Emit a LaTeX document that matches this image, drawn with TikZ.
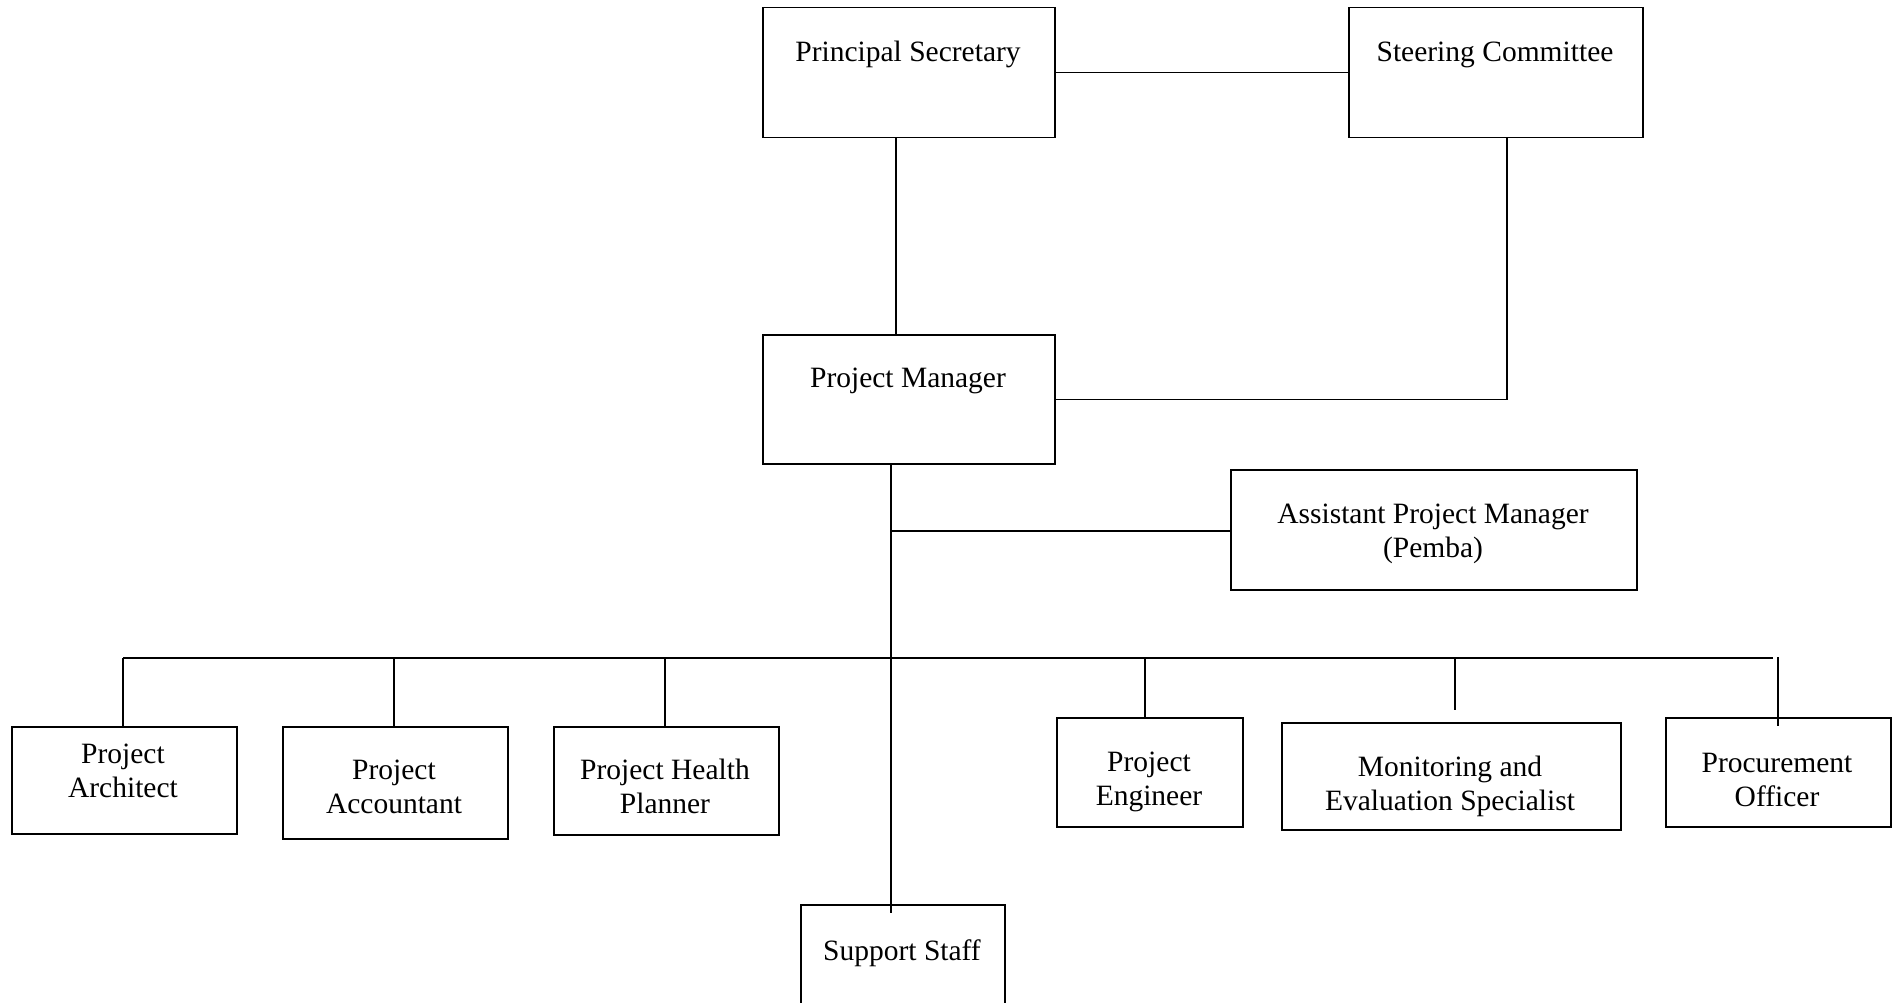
\documentclass[tikz,border=0pt]{standalone}
\usepackage{fontspec}
\setmainfont{Liberation Serif}
\begin{document}
\begin{tikzpicture}[x=1pt,y=-1pt,
  box/.style={draw, line width=1.5pt, inner sep=0pt, anchor=north west},
  lbl/.style={font=\fontsize{29.5}{34}\selectfont, align=center, inner sep=0pt, anchor=center},
  conn/.style={line width=1.3pt}]
\useasboundingbox (0,0) rectangle (1896,1003);
% boxes
\node[box, minimum width=292pt, minimum height=130pt] (ps) at (762,7) {};
\node[box, minimum width=294pt, minimum height=130pt] (sc) at (1348,7) {};
\node[box, minimum width=292pt, minimum height=129pt] (pm) at (762,334) {};
\node[box, minimum width=406pt, minimum height=120pt] (apm) at (1230,469) {};
\node[box, minimum width=225pt, minimum height=107pt] (arch) at (11,726) {};
\node[box, minimum width=225pt, minimum height=112pt] (acc) at (282,726) {};
\node[box, minimum width=225pt, minimum height=108pt] (hp) at (553,726) {};
\node[box, minimum width=186pt, minimum height=109pt] (eng) at (1056,717) {};
\node[box, minimum width=339pt, minimum height=107pt] (me) at (1281,722) {};
\node[box, minimum width=225pt, minimum height=109pt] (proc) at (1665,717) {};
\node[box, minimum width=204pt, minimum height=110pt] (ss) at (800,904) {};
% labels
\node[lbl] (psl) at (908,54) {Principal Secretary};
\node[lbl] (scl) at (1495,55) {Steering Committee};
\node[lbl] (pml) at (908,381) {Project Manager};
\node[lbl] (apml) at (1433,534) {Assistant Project Manager\\(Pemba)};
\node[lbl] (archl) at (123,771) {Project\\Architect};
\node[lbl] (accl) at (394,787) {Project\\Accountant};
\node[lbl] (hpl) at (665,786) {Project Health\\Planner};
\node[lbl] (engl) at (1149,782) {Project\\Engineer};
\node[lbl] (mel) at (1450,786) {Monitoring and\\Evaluation Specialist};
\node[lbl] (procl) at (1777,780) {Procurement\\Officer};
\node[lbl] (ssl) at (902,953) {Support Staff};
% helper coordinates
\coordinate (xps) at (896,0);
\coordinate (xsc) at (1507,0);
\coordinate (xpm) at (891,0);
\coordinate (ssend) at (891,913);
\coordinate (apmj) at (891,531);
\coordinate (busl) at (123,658);
\coordinate (busr) at (1773,658);
\coordinate (xacc) at (394,0);
\coordinate (xhp) at (665,0);
\coordinate (xeng) at (1145,0);
\coordinate (meend) at (1455,710);
\coordinate (procend) at (1778,726);
\coordinate (proctop) at (1778,657);
% connectors
\draw[conn] (ps.east) -- (sc.west);
\draw[conn] (xps |- ps.south) -- (xps |- pm.north);
\draw[conn] (xsc |- sc.south) |- (pm.east);
\draw[conn] (xpm |- pm.south) -- (ssend);
\draw[conn] (apmj) -- (apmj -| apm.west);
\draw[conn] (busl) -- (busr);
\draw[conn] (busl) -- (busl |- arch.north);
\draw[conn] (xacc |- busl) -- (xacc |- acc.north);
\draw[conn] (xhp |- busl) -- (xhp |- hp.north);
\draw[conn] (xeng |- busl) -- (xeng |- eng.north);
\draw[conn] (meend |- busl) -- (meend);
\draw[conn] (proctop) -- (procend);
\end{tikzpicture}
\end{document}
